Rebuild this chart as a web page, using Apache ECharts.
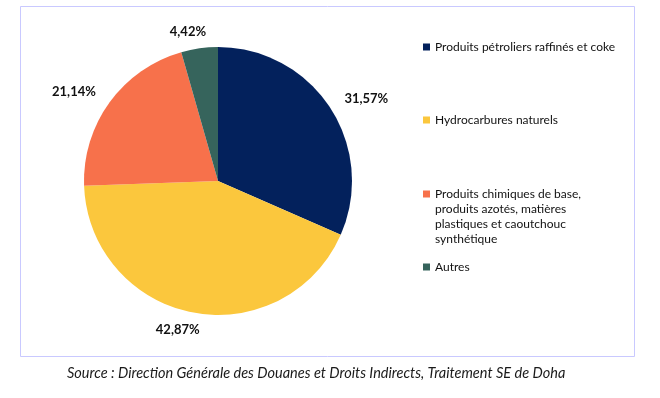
<!DOCTYPE html>
<html>
<head>
<meta charset="utf-8">
<script src="https://cdn.jsdelivr.net/npm/echarts@6/dist/echarts.min.js"></script>
<style>
  html, body { margin: 0; padding: 0; background: #fff; }
  #chart { width: 660px; height: 398px; }
</style>
</head>
<body>
<div id="chart"></div>
<script>
// catégories et parts (%)
var categories = [
  'Produits pétroliers raffinés et coke',
  'Hydrocarbures naturels',
  'Produits chimiques de base, produits azotés, matières plastiques et caoutchouc synthétique',
  'Autres'
]
var shares = [31.57, 42.87, 21.14, 4.42]
var colors = ['#03215c', '#fbc73d', '#f7714b', '#36645c']
var legendLines = [
  ['Produits pétroliers raffinés et coke'],
  ['Hydrocarbures naturels'],
  ['Produits chimiques de base,', 'produits azotés, matières', 'plastiques et caoutchouc', 'synthétique'],
  ['Autres']
]
var sourceText = 'Source : Direction Générale des Douanes et Droits Indirects, Traitement SE de Doha'

var FONT = 'Lato'
// petits décalages horizontaux des étiquettes (façon Excel)
var labelShift = [0, -10, 0, -9]
var legendTops = [39.5, 112.5, 141.5, 259.5]

var pieData = []
for (var i = 0; i < categories.length; i++) {
  pieData.push({
    name: categories[i],
    value: shares[i],
    itemStyle: { color: colors[i] },
    labelLine: { show: false, length: 17, length2: labelShift[i] }
  })
}

var legends = []
for (var k = 0; k < categories.length; k++) {
  legends.push({
    data: [categories[k]],
    left: 423,
    top: legendTops[k],
    orient: 'vertical',
    itemWidth: 7,
    itemHeight: 7,
    icon: 'rect',
    selectedMode: false,
    padding: 0,
    formatter: (function (lines) {
      // lignes vides devant pour garder le carré au niveau de la 1re ligne
      var pad = ''
      for (var j = 1; j < lines.length; j++) pad += '\n'
      return function () { return pad + lines.join('\n') }
    })(legendLines[k]),
    textStyle: {
      fontFamily: FONT,
      fontSize: 12,
      color: '#111111',
      lineHeight: 15
    }
  })
}

var chart = echarts.init(document.getElementById('chart'))
var option = {
  backgroundColor: '#ffffff',
  animation: false,
  legend: legends,
  graphic: [
    {
      type: 'rect',
      shape: { x: 20.5, y: 6.5, width: 614, height: 350 },
      style: { fill: 'none', stroke: '#c9c9ff', lineWidth: 1 },
      silent: true
    },
    {
      type: 'text',
      left: 67,
      top: 366,
      style: {
        text: sourceText,
        fontFamily: FONT,
        fontStyle: 'italic',
        fontSize: 14.5,
        fill: '#1a1a1a'
      }
    }
  ],
  series: [
    {
      type: 'pie',
      center: [218, 181],
      radius: 134,
      startAngle: 90,
      clockwise: true,
      avoidLabelOverlap: false,
      data: pieData,
      label: {
        show: true,
        position: 'outside',
        distanceToLabelLine: 0,
        fontFamily: FONT,
        fontWeight: 'bold',
        fontSize: 13,
        color: '#111111',
        formatter: function (p) {
          return p.value.toFixed(2).replace('.', ',') + '%'
        }
      },
      labelLine: { show: false },
      emphasis: { scale: false }
    }
  ]
}
chart.setOption(option)
</script>
</body>
</html>
